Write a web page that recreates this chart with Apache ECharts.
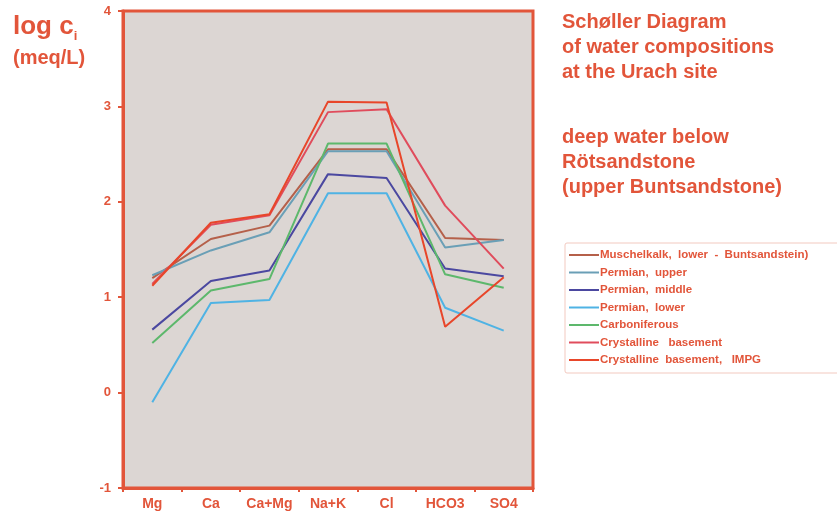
<!DOCTYPE html>
<html>
<head>
<meta charset="utf-8">
<script src="https://cdn.jsdelivr.net/npm/echarts@6/dist/echarts.min.js"></script>
<style>
  html, body { margin: 0; padding: 0; background: #fff; }
  #chart_001 { width: 837px; height: 515px; }
</style>
</head>
<body>
<div id="chart_001"></div>
<script>
// ions on the x axis
var ions = ['Mg', 'Ca', 'Ca+Mg', 'Na+K', 'Cl', 'HCO3', 'SO4'];

// log c (meq/L)
var muschelkalk  = [1.20, 1.61, 1.75, 2.55, 2.55, 1.62, 1.60];
var permianUpper = [1.23, 1.49, 1.68, 2.53, 2.53, 1.52, 1.60];
var permianMid   = [0.66, 1.17, 1.28, 2.29, 2.25, 1.30, 1.22];
var permianLow   = [-0.10, 0.94, 0.97, 2.09, 2.09, 0.89, 0.65];
var carbon       = [0.52, 1.07, 1.19, 2.61, 2.61, 1.24, 1.10];
var crystalline  = [1.14, 1.76, 1.86, 2.94, 2.97, 1.96, 1.30];
var impg         = [1.12, 1.78, 1.87, 3.05, 3.04, 0.69, 1.21];

var yTicks = [-1, 0, 1, 2, 3, 4];

var red = '#e2553a';

function line(name, data, color) {
    return {
        name: name,
        type: 'line',
        data: data,
        symbol: 'none',
        lineStyle: { color: color, width: 2 },
        itemStyle: { color: color }
    };
}

var myChart = echarts.init(document.getElementById('chart_001'));

var option = {
    backgroundColor: '#ffffff',
    animation: false,
    title: [
        {
            text: '{a|log c}{b|i}\n{c|(meq/L)}',
            left: 8, top: 6,
            textStyle: {
                rich: {
                    a: { fontFamily: 'Liberation Sans', fontWeight: 'bold', fontSize: 26, color: red, lineHeight: 32 },
                    b: { fontFamily: 'Liberation Sans', fontWeight: 'bold', fontSize: 13, color: red, verticalAlign: 'bottom', padding: [16, 0, 0, 0] },
                    c: { fontFamily: 'Liberation Sans', fontWeight: 'bold', fontSize: 20, color: red, lineHeight: 30 }
                }
            }
        },
        {
            text: 'Schøller Diagram\nof water compositions\nat the Urach site',
            left: 557, top: 5,
            textStyle: { fontFamily: 'Liberation Sans', fontWeight: 'bold', fontSize: 20, color: red, lineHeight: 25 }
        },
        {
            text: 'deep water below\nRötsandstone\n(upper Buntsandstone)',
            left: 557, top: 120,
            textStyle: { fontFamily: 'Liberation Sans', fontWeight: 'bold', fontSize: 20, color: red, lineHeight: 25 }
        }
    ],
    legend: {
        orient: 'vertical',
        left: 565, top: 243,
        itemWidth: 30, itemHeight: 2,
        itemGap: 5.5,
        icon: 'rect',
        padding: [6, 80, 7, 4],
        borderColor: '#f2c9bf',
        borderWidth: 1,
        borderRadius: 2,
        textStyle: { fontFamily: 'Liberation Sans', fontWeight: 'bold', fontSize: 11.5, color: red, padding: [0, 0, 0, -4] },
        data: ['Muschelkalk,  lower  -  Buntsandstein)', 'Permian,  upper', 'Permian,  middle',
               'Permian,  lower', 'Carboniferous', 'Crystalline   basement', 'Crystalline  basement,   IMPG']
    },
    grid: {
        left: 123, right: 304, top: 11, bottom: 27,
        show: true,
        backgroundColor: '#dcd6d3',
        borderColor: red,
        borderWidth: 3
    },
    xAxis: [{
        type: 'category',
        data: ions,
        boundaryGap: true,
        axisLine: { onZero: false, lineStyle: { color: red, width: 3 } },
        axisTick: { show: true, length: 4, interval: 0, lineStyle: { color: red, width: 2 } },
        axisLabel: { interval: 0, color: red, fontFamily: 'Liberation Sans', fontWeight: 'bold', fontSize: 14, margin: 9 },
        splitLine: { show: false }
    }],
    yAxis: [{
        type: 'value',
        min: yTicks[0], max: yTicks[yTicks.length - 1], interval: 1,
        axisLine: { show: true, lineStyle: { color: red, width: 3 } },
        axisTick: { show: true, length: 5, lineStyle: { color: red, width: 2 } },
        axisLabel: { color: red, fontFamily: 'Liberation Sans', fontWeight: 'bold', fontSize: 13, margin: 12 },
        splitLine: { show: false }
    }],
    series: [
        line('Muschelkalk,  lower  -  Buntsandstein)', muschelkalk, '#b5604a'),
        line('Permian,  upper', permianUpper, '#6a9fb6'),
        line('Permian,  middle', permianMid, '#4b48a0'),
        line('Permian,  lower', permianLow, '#4fb3e4'),
        line('Carboniferous', carbon, '#5db86c'),
        line('Crystalline   basement', crystalline, '#e04c5c'),
        line('Crystalline  basement,   IMPG', impg, '#e8462a')
    ]
};

myChart.setOption(option);
</script>
</body>
</html>
